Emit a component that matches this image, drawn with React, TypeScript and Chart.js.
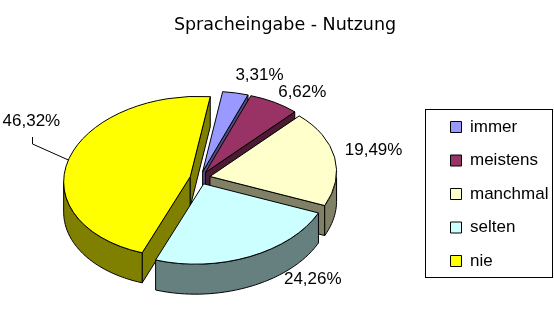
import React, { useEffect, useRef } from 'react';
import { Chart, registerables } from 'chart.js';

Chart.register(...registerables);

// ---- data ----
const CATEGORIES = ['immer', 'meistens', 'manchmal', 'selten', 'nie'];
const COUNTS = [9, 18, 53, 66, 126];
const TITLE = 'Spracheingabe - Nutzung';

// ---- styles ----
const TOP_COLORS = ['#9999FF', '#993366', '#FFFFCC', '#CCFFFF', '#FFFF00'];
const SIDE_COLORS = ['#4D4D80', '#4D1A33', '#808066', '#668080', '#808000'];
const LABEL_FONT = '17px "Liberation Sans", Arial, sans-serif';

// ---- 3D projection settings ----
const CX = 200;
const CY = 178;
const RX = 125;
const K = 0.64;
const SHX = -0.25;
const SHY = 0.06;
const EXPLODE = 10;
const DEPTH = 30;
const LABEL_NUDGE = [[24, -18], [28, -10], [39, -7], [63, 23], [-37, -39]];
const LEADER = [false, false, false, false, true];

const lin = (u: number, v: number) => [u + SHX * K * v, K * v + SHY * u];
const proj = (u: number, v: number) => {
  const p = lin(u, v);
  return [CX + p[0], CY + p[1]];
};

function geometry(chart: any) {
  const arcs = chart.getDatasetMeta(0).data;
  return arcs.map((arc: any, i: number) => {
    const { x, y, startAngle, endAngle, outerRadius } = arc;
    const m = (startAngle + endAngle) / 2;
    return {
      arc, i, x, y, a0: startAngle, a1: endAngle, m,
      S: RX / outerRadius,
      ex: EXPLODE * Math.cos(m),
      ey: EXPLODE * Math.sin(m),
    };
  });
}

function drawSides(ctx: CanvasRenderingContext2D, g: any) {
  const { a0, a1, m, ex, ey, i } = g;
  const pt = (t: number) => proj(ex + RX * Math.cos(t), ey + RX * Math.sin(t));
  const C = proj(ex, ey);
  ctx.save();
  ctx.lineWidth = 1;
  ctx.strokeStyle = '#000';
  ctx.fillStyle = SIDE_COLORS[i];
  ctx.lineJoin = 'round';
  const I = lin(Math.cos(m), Math.sin(m));
  for (const a of [a0, a1]) {
    const D = lin(Math.cos(a), Math.sin(a));
    const cr = D[0] * I[1] - D[1] * I[0];
    if (D[0] * cr < 0) {
      const P = pt(a);
      ctx.beginPath();
      ctx.moveTo(C[0], C[1]);
      ctx.lineTo(P[0], P[1]);
      ctx.lineTo(P[0], P[1] + DEPTH);
      ctx.lineTo(C[0], C[1] + DEPTH);
      ctx.closePath();
      ctx.fill();
      ctx.stroke();
    }
  }
  const ts = Math.atan(SHX * K);
  const t0 = Math.max(a0, ts);
  const t1 = Math.min(a1, ts + Math.PI);
  if (t1 > t0) {
    const n = Math.max(2, Math.ceil((t1 - t0) / 0.02));
    ctx.beginPath();
    for (let k = 0; k <= n; k++) {
      const p = pt(t0 + ((t1 - t0) * k) / n);
      if (k === 0) ctx.moveTo(p[0], p[1]);
      else ctx.lineTo(p[0], p[1]);
    }
    for (let k = n; k >= 0; k--) {
      const p = pt(t0 + ((t1 - t0) * k) / n);
      ctx.lineTo(p[0], p[1] + DEPTH);
    }
    ctx.closePath();
    ctx.fill();
    ctx.stroke();
  }
  ctx.restore();
}

function drawTop(ctx: CanvasRenderingContext2D, g: any) {
  const { arc, x, y, S, ex, ey } = g;
  ctx.save();
  ctx.translate(CX, CY);
  ctx.transform(1, SHY, SHX * K, K, 0, 0);
  ctx.translate(ex, ey);
  ctx.scale(S, S);
  ctx.translate(-x, -y);
  arc.draw(ctx);
  ctx.beginPath();
  ctx.moveTo(x, y);
  ctx.arc(x, y, arc.outerRadius, arc.startAngle, arc.endAngle);
  ctx.closePath();
  ctx.restore();
  ctx.save();
  ctx.lineWidth = 1;
  ctx.strokeStyle = '#000';
  ctx.lineJoin = 'round';
  ctx.stroke();
  ctx.restore();
}

const pie3d = {
  id: 'pie3d',
  beforeDatasetDraw(chart: any) {
    const ctx = chart.ctx as CanvasRenderingContext2D;
    const gs = geometry(chart);
    const total = COUNTS.reduce((a, b) => a + b, 0);
    const order = [...gs].sort((p: any, q: any) => Math.sin(p.m) - Math.sin(q.m));
    order.forEach((g: any) => drawSides(ctx, g));
    gs.forEach((g: any) => drawTop(ctx, g));

    ctx.save();
    ctx.font = LABEL_FONT;
    ctx.fillStyle = '#000';
    ctx.strokeStyle = '#000';
    ctx.lineWidth = 1;
    ctx.textAlign = 'center';
    ctx.textBaseline = 'middle';
    gs.forEach((g: any) => {
      const A = proj(g.ex + RX * Math.cos(g.m), g.ey + RX * Math.sin(g.m));
      const lx = A[0] + LABEL_NUDGE[g.i][0];
      const ly = A[1] + LABEL_NUDGE[g.i][1];
      const pct = ((chart.data.datasets[0].data[g.i] / total) * 100).toFixed(2).replace('.', ',') + '%';
      ctx.fillText(pct, lx, ly);
      if (LEADER[g.i]) {
        ctx.beginPath();
        ctx.moveTo(Math.round(lx) + 1.5, ly + 16);
        ctx.lineTo(Math.round(lx) + 1.5, ly + 23);
        ctx.lineTo(A[0], A[1]);
        ctx.stroke();
      }
    });
    ctx.restore();
    return false;
  },
  afterDraw(chart: any) {
    const hb = chart.legend && chart.legend.legendHitBoxes;
    if (!hb || !hb.length) return;
    const ctx = chart.ctx as CanvasRenderingContext2D;
    const first = hb[0];
    const last = hb[hb.length - 1];
    const left = first.left - 25;
    const top = first.top - 9;
    const bottom = last.top + last.height + 8;
    const right = chart.width - 1.5;
    ctx.save();
    ctx.strokeStyle = '#000';
    ctx.lineWidth = 1;
    ctx.strokeRect(left, top, right - left, bottom - top);
    ctx.restore();
  },
};

export default function App() {
  const ref = useRef<HTMLCanvasElement>(null);
  useEffect(() => {
    if (!ref.current) return;
    const chart = new Chart(ref.current, {
      type: 'pie',
      data: {
        labels: CATEGORIES,
        datasets: [
          {
            data: COUNTS,
            backgroundColor: TOP_COLORS,
            borderWidth: 0,
          },
        ],
      },
      options: {
        responsive: false,
        animation: false,
        devicePixelRatio: 1,
        events: [],
        layout: { padding: { left: 16, right: 0, top: 0, bottom: 24 } },
        plugins: {
          title: {
            display: true,
            text: TITLE,
            color: '#000',
            font: { family: '"DejaVu Sans", Verdana, sans-serif', size: 17.5, weight: 'normal' },
            padding: { top: 15, bottom: 10 },
          },
          legend: {
            display: true,
            position: 'right',
            align: 'end',
            fullSize: false,
            maxWidth: 120,
            labels: {
              color: '#000',
              font: { family: '"Liberation Sans", Arial, sans-serif', size: 17 },
              boxWidth: 11,
              boxHeight: 11,
              padding: 16.5,
              generateLabels: (c: any) =>
                c.data.labels.map((l: string, i: number) => ({
                  text: l,
                  fillStyle: TOP_COLORS[i],
                  strokeStyle: '#000',
                  lineWidth: 1,
                  fontColor: '#000',
                  hidden: false,
                  index: i,
                })),
            },
          },
          tooltip: { enabled: false },
        },
      } as any,
      plugins: [pie3d],
    });
    return () => chart.destroy();
  }, []);
  return (
    <div style={{ position: 'absolute', left: 0, top: 0, width: 554, height: 310 }}>
      <canvas ref={ref} width={554} height={310} style={{ display: 'block' }} />
    </div>
  );
}
